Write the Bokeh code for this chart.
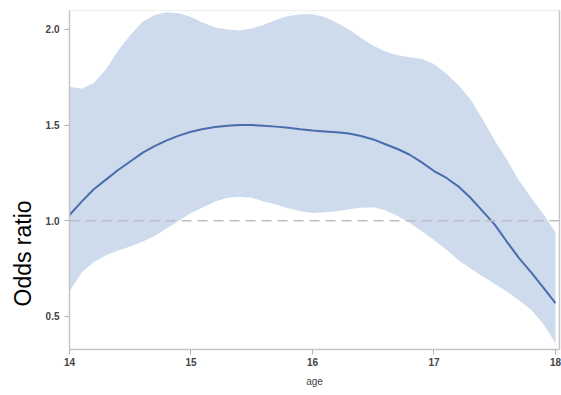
from bokeh.plotting import figure
from bokeh.models import Range1d, FixedTicker, LinearAxis, Title, Span
from bokeh.embed import file_html
from bokeh.resources import INLINE

# ---- data ----
age = [14.0, 14.1, 14.2, 14.3, 14.4, 14.5, 14.6, 14.7, 14.8, 14.9,
       15.0, 15.1, 15.2, 15.3, 15.4, 15.5, 15.6, 15.7, 15.8, 15.9,
       16.0, 16.1, 16.2, 16.3, 16.4, 16.5, 16.6, 16.7, 16.8, 16.9,
       17.0, 17.1, 17.2, 17.3, 17.4, 17.5, 17.6, 17.7, 17.8, 17.9, 18.0]

odds_ratio = [1.03, 1.10, 1.165, 1.215, 1.265, 1.31, 1.355, 1.39, 1.42, 1.445,
              1.465, 1.48, 1.49, 1.497, 1.50, 1.50, 1.497, 1.492, 1.486, 1.478,
              1.472, 1.467, 1.462, 1.456, 1.443, 1.425, 1.40, 1.375, 1.345, 1.305,
              1.26, 1.225, 1.18, 1.12, 1.05, 0.98, 0.89, 0.805, 0.73, 0.65, 0.57]

upper_ci = [1.70, 1.69, 1.72, 1.79, 1.89, 1.97, 2.04, 2.075, 2.09, 2.085,
            2.065, 2.035, 2.01, 2.0, 1.995, 2.005, 2.025, 2.05, 2.07, 2.08,
            2.08, 2.065, 2.035, 2.0, 1.955, 1.915, 1.885, 1.865, 1.855, 1.845,
            1.82, 1.77, 1.71, 1.635, 1.53, 1.42, 1.32, 1.21, 1.12, 1.035, 0.94]

lower_ci = [0.63, 0.73, 0.785, 0.82, 0.845, 0.865, 0.89, 0.92, 0.96, 1.0,
            1.04, 1.07, 1.10, 1.12, 1.125, 1.12, 1.10, 1.085, 1.065, 1.05,
            1.04, 1.045, 1.05, 1.06, 1.068, 1.07, 1.055, 1.025, 0.99, 0.945,
            0.90, 0.85, 0.795, 0.75, 0.71, 0.67, 0.63, 0.585, 0.535, 0.46, 0.36]

reference_value = 1.0
x_ticks = [14, 15, 16, 17, 18]
y_ticks = [0.5, 1.0, 1.5, 2.0]
y_tick_labels = ["0.5", "1.0", "1.5", "2.0"]

# ---- figure ----
p = figure(width=561, height=395, output_backend="svg", toolbar_location=None,
           x_range=Range1d(14, 18.033), y_range=Range1d(0.327, 2.099),
           min_border_left=68, min_border_right=2, min_border_top=10,
           min_border_bottom=46)
p.background_fill_color = "white"
p.border_fill_color = "white"
p.outline_line_color = "#eeeeee"
p.grid.visible = False

p.varea(x=age, y1=lower_ci, y2=upper_ci, fill_color="#cddbec", fill_alpha=1.0)
p.add_layout(Span(location=reference_value, dimension="width",
                  line_color="#bdbdbd", line_width=1.5, line_dash="10 6"))
p.line(age, odds_ratio, line_color="#4a6cad", line_width=2)

FONT = "Liberation Sans"
for ax in (p.xaxis[0], p.yaxis[0]):
    ax.axis_line_color = "#c6c6c6"
    ax.axis_line_width = 1.5
    ax.major_tick_line_color = "#b0b0b0"
    ax.major_tick_in = 0
    ax.major_tick_out = 5
    ax.minor_tick_line_color = None
    ax.major_label_text_font = FONT
    ax.major_label_text_font_size = "10px"
    ax.major_label_text_color = "#444444"
    ax.major_label_text_font_style = "bold"

p.xaxis.ticker = FixedTicker(ticks=x_ticks)
p.yaxis.ticker = FixedTicker(ticks=y_ticks)
p.yaxis.major_label_overrides = {t: s for t, s in zip(y_ticks, y_tick_labels)}
p.yaxis.major_label_standoff = 5
p.xaxis.major_label_standoff = 3

p.xaxis.axis_label = "age"
p.xaxis.axis_label_text_font = FONT
p.xaxis.axis_label_text_font_size = "10px"
p.xaxis.axis_label_text_font_style = "normal"
p.xaxis.axis_label_text_color = "#444444"
p.xaxis.axis_label_standoff = 7

# right border line
right_ax = LinearAxis(ticker=FixedTicker(ticks=[]), axis_line_color="#c6c6c6",
                      axis_line_width=1.5, major_label_text_font_size="0px",
                      major_tick_line_color=None, minor_tick_line_color=None)
p.add_layout(right_ax, "right")

# y axis label (placed lower than center, as in the reference)
ylab = Title(text="Odds ratio", text_font=FONT, text_font_size="23px",
             text_font_style="normal", text_color="#000000", align="left",
             offset=43, standoff=14)
p.add_layout(ylab, "left")

open("out.html", "w").write(file_html(p, INLINE))
